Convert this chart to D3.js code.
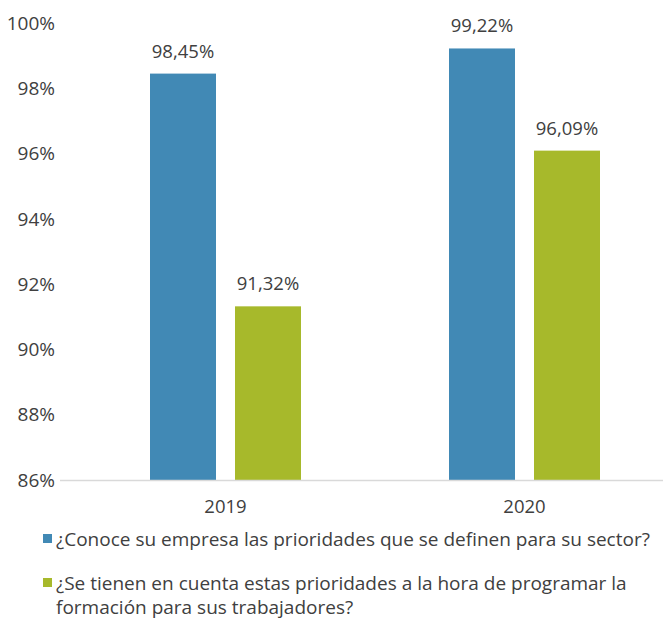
<!DOCTYPE html>
<html>
<head>
<meta charset="utf-8">
<script src="https://cdn.jsdelivr.net/npm/d3@7"></script>
<style>
body { margin: 0; background: #fff; }
text { font-family: "Open Sans", sans-serif; fill: #404040; }
</style>
</head>
<body>
<svg id="chart" width="663" height="620"></svg>
<script>
var years = ["2019", "2020"];
var seriesNames = [
	"¿Conoce su empresa las prioridades que se definen para su sector?",
	"¿Se tienen en cuenta estas prioridades a la hora de programar la formación para sus trabajadores?"
];
var conoce = [98.45, 99.22];
var tienen = [91.32, 96.09];
var yTicks = [86, 88, 90, 92, 94, 96, 98, 100];
var colors = ["#4189b5", "#a7b92b"];

var svg = d3.select("#chart");

var x = d3.scaleBand().domain(years).range([76, 674]);
var inner = d3.scaleBand().domain([0, 1]).range([0, 151]).paddingInner(0.2235);
var y = d3.scaleLinear().domain([86, 100]).range([480, 23]);

// y tick labels
svg.append("g").selectAll("text")
	.data(yTicks)
	.enter().append("text")
	.attr("x", 55)
	.attr("y", function(d) { return y(d); })
	.attr("dy", "0.35em")
	.attr("text-anchor", "end")
	.style("font-size", "19px")
	.text(function(d) { return d + "%"; });

// bars
var series = [conoce, tienen];
series.forEach(function(vals, s) {
	var g = svg.append("g");
	years.forEach(function(yr, i) {
		var x0 = x(yr) + x.bandwidth() / 2 - 75.5 + inner(s);
		g.append("rect")
			.attr("x", x0)
			.attr("y", y(vals[i]))
			.attr("width", inner.bandwidth())
			.attr("height", y(86) - y(vals[i]))
			.attr("fill", colors[s]);
		g.append("text")
			.attr("x", x0 + inner.bandwidth() / 2)
			.attr("y", y(vals[i]) - 16)
			.attr("text-anchor", "middle")
			.style("font-size", "18.5px")
			.text(vals[i].toFixed(2).replace(".", ",") + "%");
	});
});

// x axis line
svg.append("line")
	.attr("x1", 60).attr("x2", 663)
	.attr("y1", 480.5).attr("y2", 480.5)
	.attr("stroke", "#d9d9d9")
	.attr("stroke-width", 1.5);

svg.append("g").selectAll("text")
	.data(years)
	.enter().append("text")
	.attr("x", function(d) { return x(d) + x.bandwidth() / 2; })
	.attr("y", 513)
	.attr("text-anchor", "middle")
	.style("font-size", "18.5px")
	.text(function(d) { return d; });

// legend
var legendLines = [
	[seriesNames[0]],
	["¿Se tienen en cuenta estas prioridades a la hora de programar la", "formación para sus trabajadores?"]
];
var legendY = [546, 590];
legendLines.forEach(function(lines, s) {
	svg.append("rect")
		.attr("x", 43).attr("y", legendY[s] - 12)
		.attr("width", 9).attr("height", 9)
		.attr("fill", colors[s]);
	var t = svg.append("text")
		.attr("x", 56)
		.attr("y", legendY[s])
		.style("font-size", "19px");
	lines.forEach(function(l, k) {
		t.append("tspan").attr("x", 56).attr("dy", k == 0 ? 0 : 23.5).text(l);
	});
});
</script>
</body>
</html>
